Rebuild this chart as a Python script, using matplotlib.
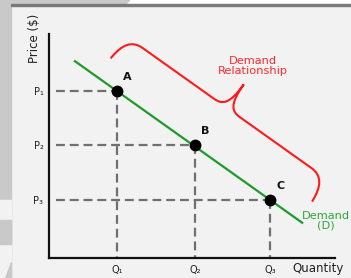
import numpy as np
import matplotlib
matplotlib.use("Agg")
import matplotlib.pyplot as plt
from matplotlib.path import Path
from matplotlib.patches import PathPatch, Rectangle, Polygon

# demand curve data (arbitrary units)
quantity = [1.78, 3.83, 5.80]
price = [5.59, 3.78, 1.94]
point_names = ["A", "B", "C"]
q_labels = ["Q\u2081", "Q\u2082", "Q\u2083"]
p_labels = ["P\u2081", "P\u2082", "P\u2083"]
demand_q = [0.68, 6.64]
demand_p = [6.59, 1.18]

W, H = 351, 278
fig = plt.figure(figsize=(W / 100, H / 100), dpi=100, facecolor="#f2f2f2")

# screenshot frame bits
fig.patches.append(Rectangle((0, 0), 11 / W, 1, transform=fig.transFigure, color="#c9c9c9", zorder=-5))
fig.patches.append(Rectangle((0, 34 / H), 11 / W, 24 / H, transform=fig.transFigure, color="#c9c9c9", zorder=-5))
fig.patches.append(Rectangle((0, 0), 11 / W, 34 / H, transform=fig.transFigure, color="#f2f2f2", zorder=-4))
fig.patches.append(Rectangle((0, 58 / H), 11 / W, 20 / H, transform=fig.transFigure, color="#f2f2f2", zorder=-4))
fig.patches.append(Rectangle((0, 34 / H), 11 / W, 24 / H, transform=fig.transFigure, color="#c9c9c9", zorder=-3))
fig.patches.append(Polygon([(5 / W, 0), (11 / W, 0), (11 / W, 16 / H)], transform=fig.transFigure, color="#c9c9c9", zorder=-3))
fig.patches.append(Rectangle((11 / W, 1 - 4 / H), 1, 4 / H, transform=fig.transFigure, color="#ffffff", zorder=-3))
fig.patches.append(Polygon([(0, 1), (130 / W, 1), (126 / W, 1 - 4 / H), (0, 1 - 4 / H)], transform=fig.transFigure, color="#c9c9c9", zorder=-2))
fig.patches.append(Rectangle((11 / W, 1 - 6 / H), 1, 2 / H, transform=fig.transFigure, color="#7a7a7a", zorder=-2))

ax = fig.add_axes([49 / W, 20 / H, 286 / W, 224 / H])
ax.set_facecolor("none")
ax.set_xlim(0, 7.5)
ax.set_ylim(0, 7.5)
for s in ["top", "right"]:
    ax.spines[s].set_visible(False)
for s in ["left", "bottom"]:
    ax.spines[s].set_linewidth(1.6)
    ax.spines[s].set_color("#111111")

dash = dict(color="#707070", lw=1.6, dashes=(4, 2.2), zorder=1)
for q, p in zip(quantity, price):
    ax.plot([0.18, q], [p, p], **dash)
    ax.plot([q, q], [p, 0], **dash)

ax.plot(demand_q, demand_p, color="#1f9a2a", lw=1.6, zorder=2)
ax.plot(quantity, price, "o", color="black", ms=7.5, zorder=3)
for q, p, n in zip(quantity, price, point_names):
    ax.annotate(n, (q, p), xytext=(10, 14), textcoords="offset pixels",
                ha="center", va="center", fontsize=8, fontweight="bold", color="#111111")

ax.set_xticks(quantity, q_labels)
ax.set_yticks(price, p_labels)
ax.tick_params(length=0, labelsize=7, colors="#222222")
ax.tick_params(axis="x", pad=5)
ax.tick_params(axis="y", pad=4)

ax.text(0.94, -0.045, "Quantity", transform=ax.transAxes, ha="center", va="center",
        fontsize=8.5, color="#222222")
ax.text(-0.049, 0.982, "Price ($)", transform=ax.transAxes, ha="center", va="center",
        rotation=90, fontsize=8.5, color="#222222")

# red curly brace along the demand line (built in pixel space)
A = ax.transData.transform((quantity[0], price[0]))
C = ax.transData.transform((quantity[-1], price[-1]))
u = (C - A) / np.linalg.norm(C - A)
n = np.array([-u[1], u[0]])
if n[1] < 0:
    n = -n
S = A - 24 * u + 23 * n
E = C + 35 * u + 23 * n
L = np.linalg.norm(E - S)
uu = (E - S) / L
m = L / 2
b, tip = 27, 56
local = [(0, 0), (1, 18), (7, b), (20, b), (m - 16, b),
         (m - 6, b), (m, b + 4), (m, tip),
         (m, b + 4), (m + 6, b), (m + 16, b), (L - 20, b),
         (L - 7, b), (L - 1, 18), (L, 0)]
codes = [Path.MOVETO, Path.CURVE4, Path.CURVE4, Path.CURVE4, Path.LINETO,
         Path.CURVE4, Path.CURVE4, Path.CURVE4,
         Path.CURVE4, Path.CURVE4, Path.CURVE4, Path.LINETO,
         Path.CURVE4, Path.CURVE4, Path.CURVE4]
disp = np.array([S + s * uu + t * n for s, t in local])
verts = ax.transData.inverted().transform(disp)
ax.add_patch(PathPatch(Path(verts, codes), fill=False, edgecolor="#ff1a1a", lw=1.5, clip_on=False))

ax.text(5.35, 6.43, "Demand\nRelationship", ha="center", va="center", fontsize=8.2,
        color="#ff2a2a", linespacing=0.95)
ax.text(7.27, 1.25, "Demand\n(D)", ha="center", va="center", fontsize=8.2,
        color="#2aa83a", linespacing=0.95, clip_on=False)

fig.savefig("out.png", dpi=100, facecolor=fig.get_facecolor())
